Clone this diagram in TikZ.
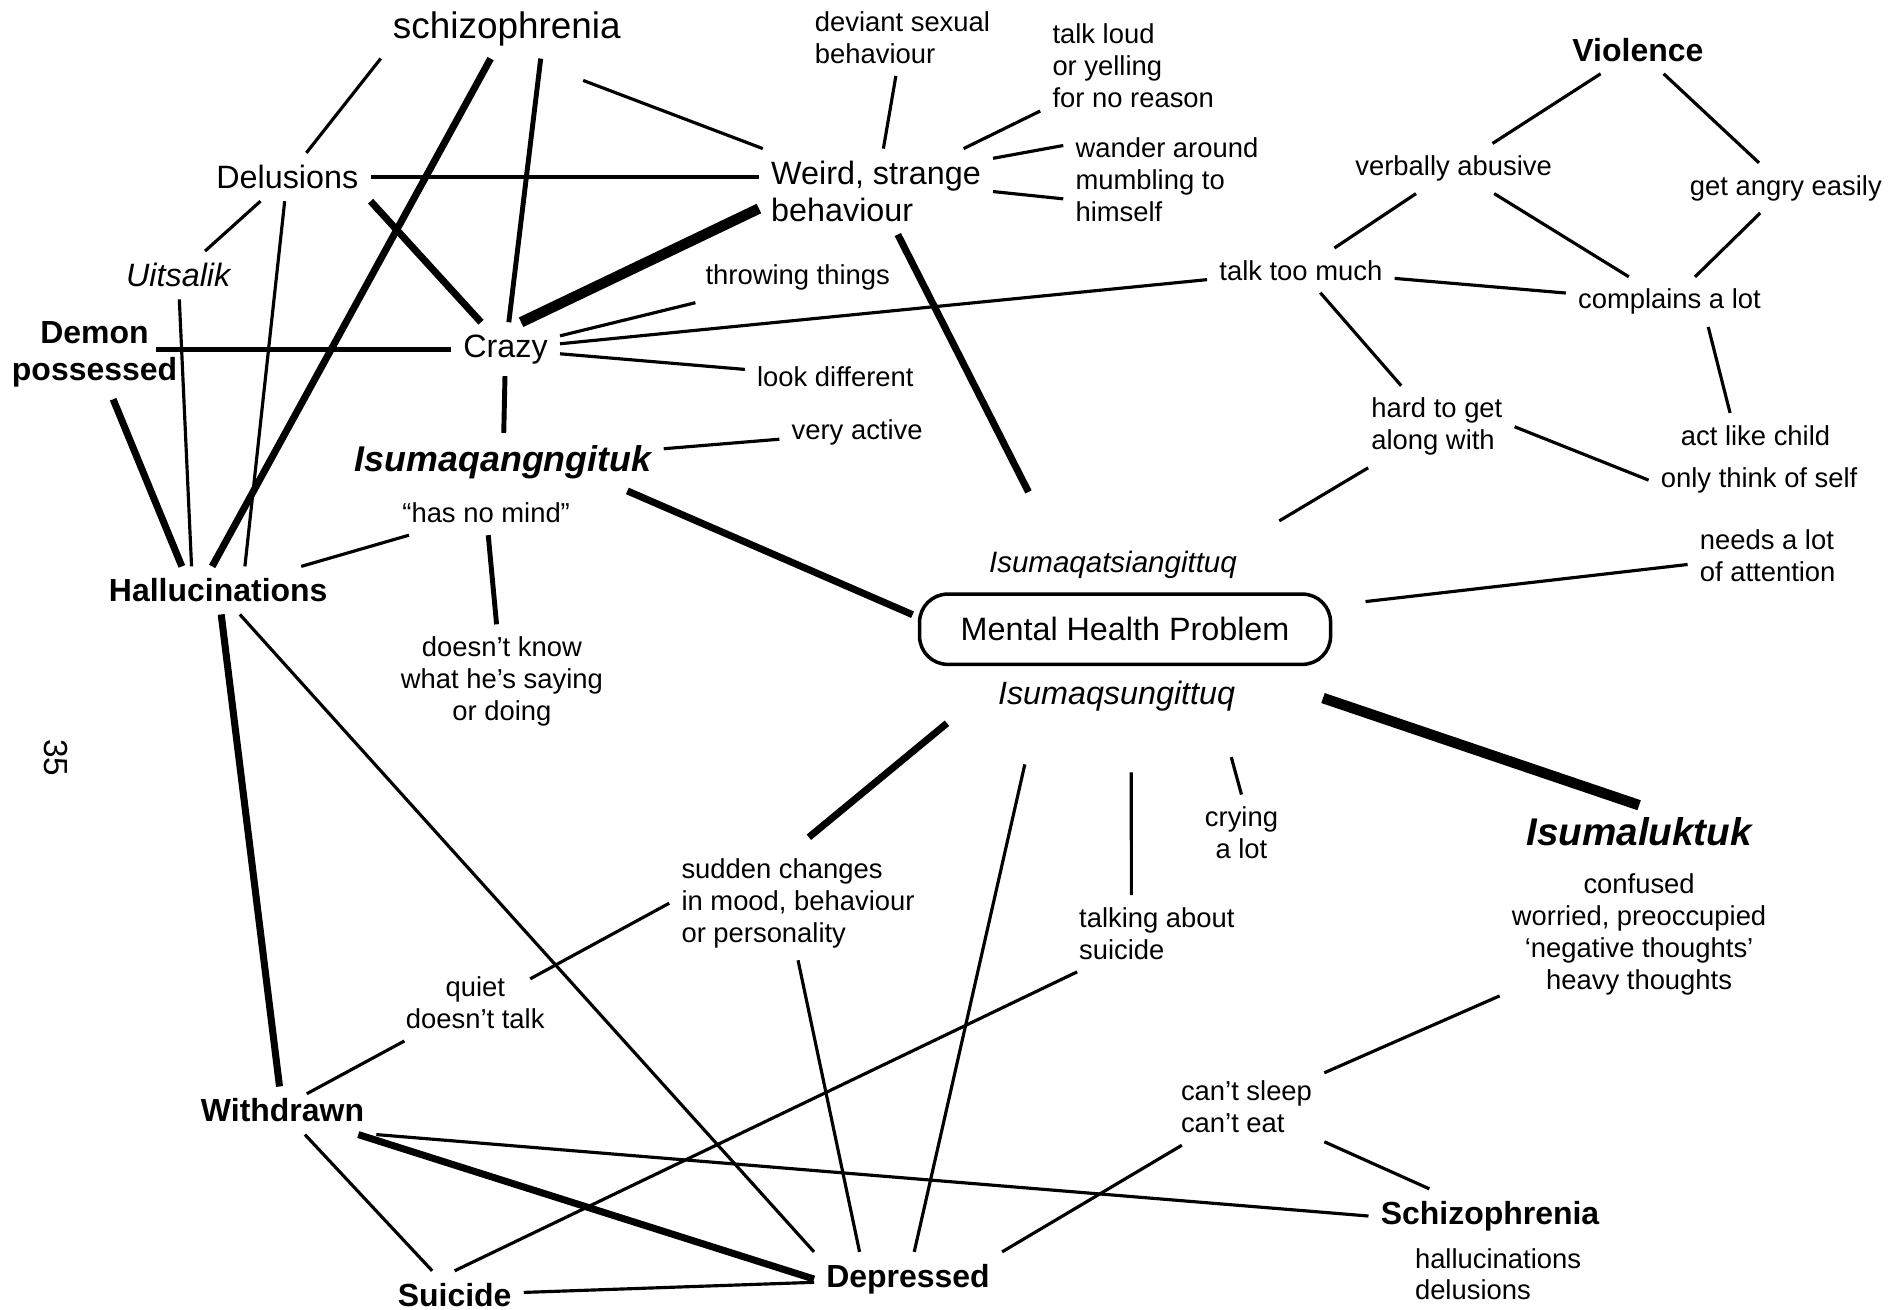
\documentclass[tikz,border=0pt]{standalone}
\usepackage{fontspec}
\setmainfont{Liberation Sans}
\usetikzlibrary{calc}

\begin{document}
\begin{tikzpicture}[x=0.012124cm, y=-0.012124cm,
    lbl/.style={font=\fontsize{7.8}{9.1}\selectfont, align=center, inner sep=1.5pt, outer sep=2pt},
    lbll/.style={lbl, align=left, anchor=west},
    term/.style={lbl, font=\fontsize{9.2}{10.7}\selectfont},
    key/.style={lbl, font=\fontsize{9.1}{10.6}\selectfont\bfseries},
    inuk/.style={lbl, font=\fontsize{10.2}{12}\selectfont\bfseries\itshape},
    link/.style={line width=0.9pt},
    midlink/.style={line width=1.4pt},
    boldlink/.style={line width=2pt},
    heavylink/.style={line width=3pt}
  ]
  \useasboundingbox (0,0) rectangle (1568,1080);

  % Centre
  \node[term, draw, line width=1pt, rounded corners=8pt, minimum width=117pt, minimum height=20pt] (mhp) at (928,519) {Mental Health Problem};
  \node[lbl, font=\fontsize{8.4}{10}\selectfont\itshape] (isqats) at (918,466) {Isumaqatsiangittuq};
  \node[term, font=\fontsize{9.2}{10.7}\selectfont\itshape] (isqsung) at (921,574) {Isumaqsungittuq};

  % Left cluster
  \node[term, font=\fontsize{10.5}{12}\selectfont] (schiz) at (418,24) {schizophrenia};
  \node[term] (delus) at (237,146) {Delusions};
  \node[term, font=\fontsize{9.2}{10.7}\selectfont\itshape] (uits) at (147,227) {Uitsalik};
  \node[key] (demon) at (78,292) {Demon\\possessed};
  \node[term] (crazy) at (417,288) {Crazy};
  \node[inuk] (isq) at (415,381) {Isumaqangngituk};
  \node[lbl] (hnm) at (401,423) {“has no mind”};
  \node[key] (hall) at (180,487) {Hallucinations};
  \node[lbl] (doesnt) at (414,562) {doesn't know\\what he's saying\\or doing};

  % Bottom
  \node[lbl] (quiet) at (392,827) {quiet\\doesn't talk};
  \node[key] (withdrawn) at (233,916) {Withdrawn};
  \node[key] (suicide) at (375,1068) {Suicide};
  \node[key] (depressed) at (749,1055) {Depressed};
  \node[lbll] (sudden) at (552,745) {sudden changes\\in mood, behaviour\\or personality};
  \node[lbll] (talksui) at (880,770) {talking about\\suicide};
  \node[lbl] (crying) at (1024,687) {crying\\a lot};
  \node[lbll] (cantsleep) at (964,913) {can't sleep\\can't eat};
  \node[key] (schizo) at (1229,1003) {Schizophrenia};
  \node[lbll] (schizsym) at (1157,1051) {hallucinations\\delusions};
  \node[inuk, font=\fontsize{11}{13}\selectfont\bfseries\itshape] (isl) at (1352,686) {Isumaluktuk};
  \node[lbl] (confused) at (1352,771) {confused\\worried, preoccupied\\`negative thoughts'\\heavy thoughts};

  % Weird cluster
  \node[term, align=left, anchor=west] (weird) at (626,158) {Weird, strange\\behaviour};
  \node[lbll] (deviant) at (662,31) {deviant sexual\\behaviour};
  \node[lbll] (talkloud) at (858,54) {talk loud\\or yelling\\for no reason};
  \node[lbll] (wander) at (877,148) {wander around\\mumbling to\\himself};
  \node[lbl] (throwing) at (658,229) {throwing things};
  \node[lbl] (lookdiff) at (689,311) {look different};
  \node[lbl] (veryactive) at (707,357) {very active};

  % Violence cluster
  \node[key] (violence) at (1351,41) {Violence};
  \node[lbl] (verbally) at (1199,139) {verbally abusive};
  \node[lbl] (angry) at (1473,155) {get angry easily};
  \node[lbl] (talktoo) at (1073,223) {talk too much};
  \node[lbl] (complains) at (1377,249) {complains a lot};
  \node[lbll] (hardto) at (1121,352) {hard to get\\along with};
  \node[lbl] (actchild) at (1448,359) {act like child};
  \node[lbl] (onlyself) at (1451,396) {only think of self};
  \node[lbll] (needs) at (1392,458) {needs a lot\\of attention};

  % Page number
  \node[lbl, font=\fontsize{9.5}{10}\selectfont, rotate=-90] (page) at (46,625) {35};

  % Plain links
  \foreach \a/\b in {delus/uits, crazy/throwing, crazy/talktoo, crazy/lookdiff, isq/veryactive,
      hnm/hall, weird/deviant, weird/talkloud, violence/verbally, violence/angry,
      verbally/talktoo, verbally/complains, angry/complains, talktoo/complains, talktoo/hardto,
      withdrawn/suicide, suicide/depressed, cantsleep/confused, cantsleep/schizo}
    \draw[link] (\a) -- (\b);

  \foreach \a/\b in {crazy/isq, hnm/doesnt}
    \draw[midlink] (\a) -- (\b);

  % From schizophrenia
  \draw[link] (schiz.south west) -- (delus);
  \draw[boldlink] (schiz) -- ($(hall.north)+(-5,0)$);
  \draw[midlink] ($(schiz.south)+(28,0)$) -- (crazy);
  \draw[link] ($(schiz.south)+(63,18)$) -- (weird);

  % Delusions, Uitsalik, Demon
  \draw[midlink] (delus.east) -- (weird.west |- delus.east);
  \draw[boldlink] (delus.south east) -- (crazy);
  \draw[link] (delus) -- ($(hall.north)+(22,0)$);
  \draw[link] (uits) -- ($(hall.north)+(-22,0)$);
  \draw[boldlink] (demon) -- ($(hall.north)+(-30,0)$);
  \draw[midlink] ($(demon.east)+(-28,-4)$) -- (crazy);

  % Crazy, Isumaqangngituk
  \draw[heavylink] (crazy.60) -- ($(weird.west)+(0,14)$);
  \draw[boldlink] ($(isq.south east)+(-30,0)$) -- ($(mhp.west)+(0,-12)$);

  % Weird
  \draw[link] ($(weird.north east)+(0,8)$) -- ($(wander.west)+(0,-28)$);
  \draw[link] (weird.east) -- ($(wander.west)+(0,16)$);
  \draw[boldlink, shorten >=15pt] (weird) -- ($(isqats.north)+(-50,0)$);

  % Mental health problem
  \draw[link, shorten <=10pt] (isqats.north east) -- (hardto);
  \draw[link, shorten <=8pt] (mhp) -- (needs);
  \draw[heavylink] ($(mhp.south east)+(-12,22)$) -- (isl.north);
  \draw[boldlink, shorten >=4pt] ($(isqsung.south west)+(-32,0)$) -- (sudden.north);
  \draw[link, shorten <=12pt] ($(isqsung.south)+(-68,0)$) -- (depressed);
  \draw[link, shorten <=14pt] ($(isqsung.south)+(12,0)$) -- ($(talksui.north)+(-21,0)$);
  \draw[link, shorten <=10pt] ($(isqsung.south)+(87,0)$) -- (crying.north);

  % Violence cluster
  \draw[link] ($(complains.south)+(32,0)$) -- ($(actchild.north)+(-21,0)$);
  \draw[link] (hardto.east) -- (onlyself.west);

  % Bottom
  \draw[boldlink] (hall) -- (withdrawn);
  \draw[link] (hall) -- (depressed.north west);
  \draw[link] (sudden.west) -- ($(quiet.north east)+(-22,12)$);
  \draw[link] (quiet) -- ($(withdrawn.north)+(20,6)$);
  \draw[link] (sudden.south) -- ($(depressed.north)+(-40,0)$);
  \draw[link] (withdrawn.south east) -- (schizo.west);
  \draw[boldlink] (withdrawn) -- (depressed.west);
  \draw[link] (suicide.north) -- (talksui);
  \draw[link] (depressed.north east) -- (cantsleep);
\end{tikzpicture}
\end{document}
